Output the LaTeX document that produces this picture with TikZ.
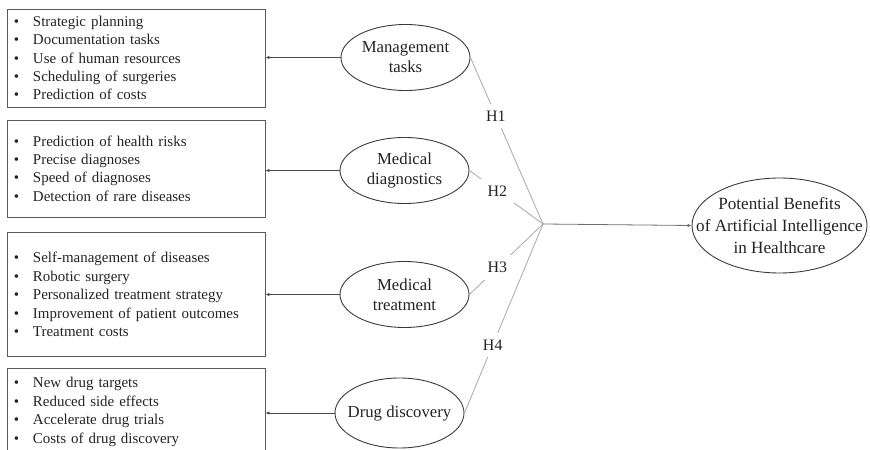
\documentclass[tikz,border=0pt]{standalone}
\usepackage{fontspec}
\setmainfont{Liberation Serif}
\usetikzlibrary{shapes.geometric,arrows.meta}
\definecolor{boxc}{HTML}{5A5A5A}
\definecolor{ellc}{HTML}{3A3A3A}
\definecolor{linec}{HTML}{A8A8A8}
\definecolor{arrc}{HTML}{4A4A4A}
\definecolor{txtc}{HTML}{222222}
\newcommand\itm[1]{\makebox[19bp][l]{\textbullet}#1}
\begin{document}
\begin{tikzpicture}[x=1bp,y=-1bp,
  font=\fontsize{15}{18.5}\selectfont, text=txtc,
  listbox/.style={draw=boxc, line width=0.9bp, rectangle, minimum width=258bp,
    text width=244bp, inner xsep=7bp, inner ysep=0bp, align=left},
  ell/.style={draw=ellc, line width=0.9bp, ellipse, minimum width=129bp,
    minimum height=66bp, inner sep=0bp},
  elltext/.style={align=center, inner sep=0bp, font=\fontsize{16.8}{20}\selectfont},
  toarrow/.style={draw=arrc, line width=0.8bp, -{Latex[length=4bp,width=3.5bp]}},
  hline/.style={draw=linec, line width=0.8bp},
  hlab/.style={fill=white, inner xsep=8bp, inner ysep=7bp, font=\fontsize{16}{18}\selectfont}]
\useasboundingbox (0,0) rectangle (870,450);
\clip (0,0) rectangle (870,450);

% list boxes
\node[listbox, minimum height=98bp] (b1) at (136,58)
  {\itm{Strategic planning}\\\itm{Documentation tasks}\\\itm{Use of human resources}\\\itm{Scheduling of surgeries}\\\itm{Prediction of costs}};
\node[listbox, minimum height=97bp] (b2) at (136,168.5)
  {\itm{Prediction of health risks}\\\itm{Precise diagnoses}\\\itm{Speed of diagnoses}\\\itm{Detection of rare diseases}};
\node[listbox, minimum height=124bp] (b3) at (136,294.5)
  {\itm{Self-management of diseases}\\\itm{Robotic surgery}\\\itm{Personalized treatment strategy}\\\itm{Improvement of patient outcomes}\\\itm{Treatment costs}};
\node[listbox, minimum height=88bp] (b4) at (136,412)
  {\itm{New drug targets}\\\itm{Reduced side effects}\\\itm{Accelerate drug trials}\\\itm{Costs of drug discovery}};

% ellipses
\node[ell] (m1) at (405.5,57.5) {};
\node[elltext] (m1t) at (m1) {Management\\tasks};
\node[ell] (m2) at (404.5,170.5) {};
\node[elltext] (m2t) at (m2) {Medical\\diagnostics};
\node[ell] (m3) at (404.5,294.5) {};
\node[elltext] (m3t) at (m3) {Medical\\treatment};
\node[ell, minimum height=70bp] (m4) at (399.5,413) {};
\node[elltext] (m4t) at (m4) {Drug discovery};

\node[draw=ellc, line width=0.9bp, ellipse, minimum width=175bp, minimum height=95bp, inner sep=0bp] (t) at (779.5,225.5) {};
\node[elltext, font=\fontsize{17.2}{22}\selectfont] (tt) at (t) {Potential Benefits\\of Artificial Intelligence\\in Healthcare};

\coordinate (c) at (543,224);

% arrows to boxes
\draw[toarrow] (m1.west) -- (m1.west -| b1.east);
\draw[toarrow] (m2.west) -- (m2.west -| b2.east);
\draw[toarrow] (m3.west) -- (m3.west -| b3.east);
\draw[toarrow] (m4.west) -- (m4.west -| b4.east);

% hypothesis lines
\draw[hline] (m1.east) -- (c) node[hlab, pos=0.35] (h1) {H1};
\draw[hline] (m2.east) -- (c) node[hlab, pos=0.38] (h2) {H2};
\draw[hline] (m3.east) -- (c) node[hlab, pos=0.38] (h3) {H3};
\draw[hline] (m4.east) -- (c) node[hlab, pos=0.36] (h4) {H4};

\draw[toarrow, draw=arrc!80] (c) -- (t.west);
\end{tikzpicture}
\end{document}
